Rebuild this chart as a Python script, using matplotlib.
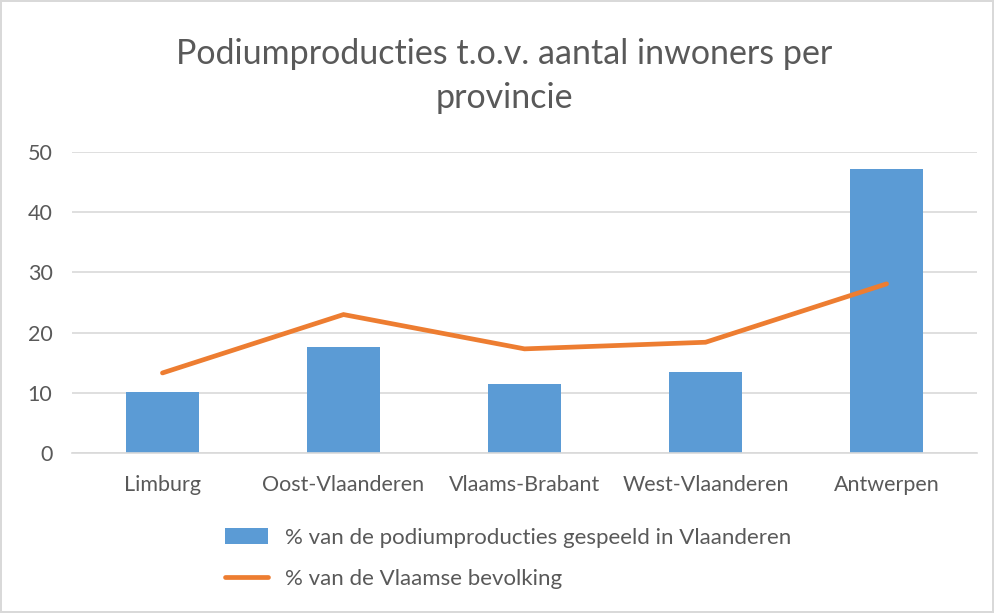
import matplotlib.pyplot as plt
from matplotlib.patches import Patch
from matplotlib.lines import Line2D

provinces = ['Limburg', 'Oost-Vlaanderen', 'Vlaams-Brabant', 'West-Vlaanderen', 'Antwerpen']
podium_pct = [10.1, 17.6, 11.5, 13.4, 47.2]
population_pct = [13.3, 23.0, 17.3, 18.4, 28.1]
y_ticks = [0, 10, 20, 30, 40, 50]

bar_color = '#5B9BD5'
line_color = '#ED7D31'
text_color = '#595959'
grid_color = '#D9D9D9'

plt.rcParams['font.family'] = ['Lato', 'DejaVu Sans']

fig = plt.figure(figsize=(9.94, 6.13), dpi=100)
fig.patch.set_edgecolor('#D9D9D9')
fig.patch.set_linewidth(1.5)
ax = fig.add_axes([0.0724, 0.261, 0.9106, 0.491])

x = list(range(len(provinces)))
ax.bar(x, podium_pct, width=0.4, color=bar_color, zorder=2)
ax.plot(x, population_pct, color=line_color, linewidth=3.4, solid_capstyle='round',
        solid_joinstyle='miter', zorder=3)

ax.set_xlim(-0.5, len(provinces) - 0.5)
ax.set_ylim(0, 50)
ax.set_yticks(y_ticks)
ax.set_xticks(x)
ax.set_xticklabels(provinces)
ax.yaxis.grid(True, color=grid_color, linewidth=1.2, zorder=0)
ax.set_axisbelow(True)
for side in ['top', 'right', 'left']:
    ax.spines[side].set_visible(False)
ax.spines['bottom'].set_color(grid_color)
ax.spines['bottom'].set_linewidth(1.2)
ax.tick_params(axis='both', length=0, labelsize=15.5, colors=text_color)
ax.tick_params(axis='y', pad=14)
ax.tick_params(axis='x', pad=16)

fig.text(0.507, 0.876, 'Podiumproducties t.o.v. aantal inwoners per\nprovincie',
         ha='center', va='center', fontsize=24.5, color=text_color,
         linespacing=1.45)

handles = [Patch(facecolor=bar_color, edgecolor='none'),
           Line2D([0], [0], color=line_color, linewidth=3.4, solid_capstyle='round')]
labels = ['% van de podiumproducties gespeeld in Vlaanderen', '% van de Vlaamse bevolking']
leg = fig.legend(handles, labels, loc='upper left', bbox_to_anchor=(0.226, 0.139),
                 frameon=False, fontsize=16, handlelength=1.95, handletextpad=0.75,
                 labelspacing=0.95, borderaxespad=0, borderpad=0)
for t in leg.get_texts():
    t.set_color(text_color)

fig.savefig('out.png', dpi=100)
